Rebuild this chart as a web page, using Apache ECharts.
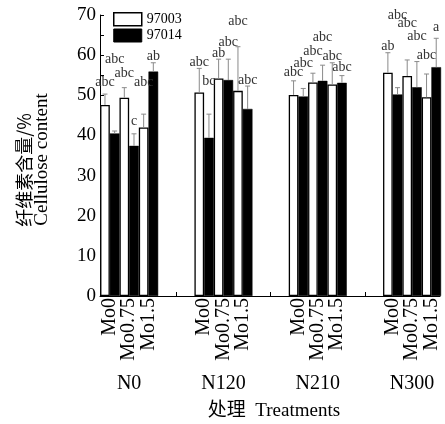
<!DOCTYPE html>
<html><head><meta charset="utf-8">
<script src="https://cdn.jsdelivr.net/npm/echarts@6/dist/echarts.min.js"></script>
<style>html,body{margin:0;padding:0;background:#fff}#c{width:445px;height:424px}</style>
</head><body><div id="c"></div>
<script>
// ---- data ----
const groups = ['N0', 'N120', 'N210', 'N300'];
const moLevels = ['Mo0', 'Mo0.75', 'Mo1.5'];
const varieties = ['97003', '97014'];
const yTicks = [0, 10, 20, 30, 40, 50, 60, 70];
const yTitleCn = '纤维素含量/%';
const yTitleEn = 'Cellulose content';
const xTitle = '处理  Treatments';

// cellulose content (%) per N level, for each variety x Mo
const val97003Mo0   = [47.6, 50.7, 50.1, 55.6];
const val97003Mo075 = [49.4, 54.2, 53.2, 54.8];
const val97003Mo15  = [42.0, 51.1, 52.7, 49.5];
const val97014Mo0   = [40.5, 39.4, 49.7, 50.2];
const val97014Mo075 = [37.4, 53.8, 53.6, 52.0];
const val97014Mo15  = [55.9, 46.6, 53.1, 57.0];

// error (SD)
const err97003Mo0   = [2.7, 6.0, 3.5, 5.0];
const err97003Mo075 = [2.5, 4.8, 2.3, 4.0];
const err97003Mo15  = [3.3, 11.0, 5.4, 5.8];
const err97014Mo0   = [0.6, 5.9, 2.0, 1.7];
const err97014Mo075 = [3.0, 5.2, 3.9, 6.4];
const err97014Mo15  = [2.2, 5.7, 1.8, 7.2];

// significance letters
const let97003Mo0   = ['abc', 'abc', 'abc', 'ab'];
const let97003Mo075 = ['abc', 'ab', 'abc', 'abc'];
const let97003Mo15  = ['abc', 'abc', 'abc', 'abc'];
const let97014Mo0   = ['abc', 'bc', 'abc', 'abc'];
const let97014Mo075 = ['c', 'abc', 'abc', 'abc'];
const let97014Mo15  = ['ab', 'abc', 'abc', 'a'];

// height (in % units) at which each letter group is printed
const lh97003Mo0   = [53.2, 58.2, 55.6, 62.3];
const lh97003Mo075 = [55.5, 60.4, 61.0, 68.0];
const lh97003Mo15  = [53.2, 68.3, 59.7, 59.9];
const lh97014Mo0   = [58.9, 53.6, 58.0, 69.9];
const lh97014Mo075 = [43.4, 63.3, 64.4, 64.6];
const lh97014Mo15  = [59.7, 53.8, 56.9, 66.9];

// ---- build ----
const FONT = "'Liberation Serif','Times New Roman','Noto Sans CJK SC',serif";
const CJK = "'Noto Sans CJK SC',sans-serif";
const BW = 9.67;
const entries = [
  { v: 0, mo: 0, val: val97003Mo0,   err: err97003Mo0,   lt: let97003Mo0,   lh: lh97003Mo0 },
  { v: 1, mo: 0, val: val97014Mo0,   err: err97014Mo0,   lt: let97014Mo0,   lh: lh97014Mo0 },
  { v: 0, mo: 1, val: val97003Mo075, err: err97003Mo075, lt: let97003Mo075, lh: lh97003Mo075 },
  { v: 1, mo: 1, val: val97014Mo075, err: err97014Mo075, lt: let97014Mo075, lh: lh97014Mo075 },
  { v: 0, mo: 2, val: val97003Mo15,  err: err97003Mo15,  lt: let97003Mo15,  lh: lh97003Mo15 },
  { v: 1, mo: 2, val: val97014Mo15,  err: err97014Mo15,  lt: let97014Mo15,  lh: lh97014Mo15 }
];

const series = [];
entries.forEach(function (e) {
  const white = e.v === 0;
  series.push({
    type: 'bar', name: varieties[e.v], xAxisIndex: 0, yAxisIndex: 0,
    barWidth: BW, barGap: '0%', silent: true,
    itemStyle: white ? { color: '#fff', borderColor: '#000', borderWidth: 1.3 }
                     : { color: '#000', borderColor: '#000', borderWidth: 0.5 },
    data: e.val
  });
});
entries.forEach(function (e, i) {
  series.push({
    type: 'custom', xAxisIndex: 0, yAxisIndex: 0, z: 5, silent: true, clip: false,
    data: e.val.map(function (v, k) { return [k, v, v + e.err[k], e.lh[k]]; }),
    renderItem: function (params, api) {
      const k = api.value(0);
      const p0 = api.coord([k, api.value(1)]);
      const p1 = api.coord([k, api.value(2)]);
      const p2 = api.coord([k, api.value(3)]);
      const pb = api.coord([k, 0]);
      const x = p0[0] + (i - 2.5) * BW;
      const children = [
        { type: 'line', shape: { x1: x, y1: p0[1], x2: x, y2: p1[1] }, style: { stroke: '#8a8a8a', lineWidth: 1 } },
        { type: 'line', shape: { x1: x - 2.5, y1: p1[1], x2: x + 2.5, y2: p1[1] }, style: { stroke: '#8a8a8a', lineWidth: 1 } },
        { type: 'text', x: x, y: p2[1], style: { text: e.lt[k], fill: '#333', font: '14px ' + FONT, align: 'center', verticalAlign: 'middle' } }
      ];
      if (e.v === 0) {
        children.push({
          type: 'text', x: x + BW / 2, y: pb[1] + 2, rotation: Math.PI / 2,
          style: { text: moLevels[e.mo], fill: '#000', font: '20px ' + FONT, align: 'right', verticalAlign: 'middle' }
        });
      }
      return { type: 'group', children: children };
    }
  });
});

const chart = echarts.init(document.getElementById('c'), null, { renderer: 'canvas' });
chart.setOption({
  animation: false,
  backgroundColor: '#fff',
  legend: {
    orient: 'vertical', left: 113, top: 12, padding: 0, itemWidth: 28, itemHeight: 13, itemGap: 2,
    icon: 'rect',
    textStyle: { fontFamily: FONT, fontSize: 14, color: '#000' },
    data: [
      { name: varieties[0], itemStyle: { color: '#fff', borderColor: '#000', borderWidth: 1.5 } },
      { name: varieties[1], itemStyle: { color: '#000', borderColor: '#000', borderWidth: 1 } }
    ]
  },
  graphic: [
    { type: 'text', x: 24.5, y: 170, rotation: Math.PI / 2, silent: true,
      style: { text: yTitleCn, fill: '#000', font: '18px ' + CJK, align: 'center', verticalAlign: 'middle' } },
    { type: 'text', x: 42.5, y: 159.5, rotation: Math.PI / 2, silent: true,
      style: { text: yTitleEn, fill: '#000', font: '19px ' + FONT, align: 'center', verticalAlign: 'middle' } },
    { type: 'text', x: 274, y: 411, silent: true,
      style: { text: xTitle, fill: '#000', font: '19px ' + FONT, align: 'center', verticalAlign: 'middle' } }
  ],
  grid: [
    { left: 82, width: 377.2, top: 15, bottom: 128, outerBoundsMode: 'none', containLabel: false },
    { left: 100, right: 5, top: 15, bottom: 128, outerBoundsMode: 'none', containLabel: false }
  ],
  xAxis: [
    {
      type: 'category', gridIndex: 0, data: groups,
      axisLine: { show: false },
      axisTick: { show: true, inside: true, length: 4, lineStyle: { color: '#000' },
                  interval: function (i) { return i > 0; } },
      axisLabel: { margin: 78, fontFamily: FONT, fontSize: 20, color: '#000', interval: 0 },
      splitLine: { show: false }
    },
    {
      type: 'value', gridIndex: 1, min: 0, max: 1,
      axisLine: { show: true, lineStyle: { color: '#000', width: 1 } },
      axisTick: { show: false }, axisLabel: { show: false }, splitLine: { show: false }
    }
  ],
  yAxis: [
    {
      type: 'value', gridIndex: 0, min: 0, max: 70,
      axisLine: { show: false }, axisTick: { show: false }, axisLabel: { show: false }, splitLine: { show: false }
    },
    {
      type: 'value', gridIndex: 1, min: 0, max: 70, interval: 5,
      axisLine: { show: true, lineStyle: { color: '#000', width: 1 } },
      axisTick: { show: true, inside: true, length: 4, lineStyle: { color: '#000' } },
      axisLabel: {
        margin: 4, fontFamily: FONT, fontSize: 19, color: '#000',
        formatter: function (v) { return yTicks.indexOf(v) >= 0 ? String(v) : ''; }
      },
      splitLine: { show: false }
    }
  ],
  series: series
});
</script>
</body></html>
